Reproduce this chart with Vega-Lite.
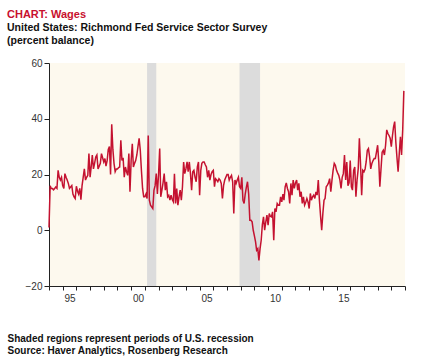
{
"$schema": "https://vega.github.io/schema/vega-lite/v6.json",
"width": 356, "height": 223,
"autosize": "none",
"padding": {"left": 49, "top": 63, "right": 33, "bottom": 75},
"background": "white",
"config": {"view": {"fill": "#fdf9ee", "stroke": null}, "font": "Liberation Sans"},
"title": {"text": "CHART: Wages", "subtitle": ["United States: Richmond Fed Service Sector Survey", "(percent balance)"], "anchor": "start", "frame": "group", "dx": -42, "offset": 12, "color": "#c8102e", "fontSize": 11, "fontWeight": "bold", "font": "Liberation Sans", "subtitleFont": "Liberation Sans", "subtitleFontSize": 10.5, "subtitleFontWeight": "bold", "subtitleColor": "#111111", "subtitleLineHeight": 13, "subtitlePadding": 3},
"datasets": {
"rec": [{"s": "2001-03-01", "e": "2001-11-01"}, {"s": "2007-12-01", "e": "2009-06-01"}],
"wages": [
{"d":"1994-01","v":1},{"d":"1994-02","v":16},{"d":"1994-03","v":15},{"d":"1994-04","v":15},{"d":"1994-05","v":14.5},{"d":"1994-06","v":15},{"d":"1994-07","v":15.5},{"d":"1994-08","v":15},{"d":"1994-09","v":21.5},{"d":"1994-10","v":19},{"d":"1994-11","v":18},{"d":"1994-12","v":19},
{"d":"1995-01","v":16},{"d":"1995-02","v":15},{"d":"1995-03","v":20.3},{"d":"1995-04","v":19},{"d":"1995-05","v":18},{"d":"1995-06","v":16.8},{"d":"1995-07","v":15},{"d":"1995-08","v":15.5},{"d":"1995-09","v":16},{"d":"1995-10","v":13},{"d":"1995-11","v":12},{"d":"1995-12","v":11.4},
{"d":"1996-01","v":15.8},{"d":"1996-02","v":14},{"d":"1996-03","v":13},{"d":"1996-04","v":15},{"d":"1996-05","v":11},{"d":"1996-06","v":16},{"d":"1996-07","v":19},{"d":"1996-08","v":22},{"d":"1996-09","v":18},{"d":"1996-10","v":19},{"d":"1996-11","v":19.7},{"d":"1996-12","v":27.5},
{"d":"1997-01","v":19},{"d":"1997-02","v":23},{"d":"1997-03","v":27},{"d":"1997-04","v":22},{"d":"1997-05","v":24},{"d":"1997-06","v":26.3},{"d":"1997-07","v":27},{"d":"1997-08","v":22},{"d":"1997-09","v":23},{"d":"1997-10","v":24},{"d":"1997-11","v":27.5},{"d":"1997-12","v":26},
{"d":"1998-01","v":24.5},{"d":"1998-02","v":25.7},{"d":"1998-03","v":23},{"d":"1998-04","v":25},{"d":"1998-05","v":29},{"d":"1998-06","v":30},{"d":"1998-07","v":20},{"d":"1998-08","v":38},{"d":"1998-09","v":29},{"d":"1998-10","v":24},{"d":"1998-11","v":21},{"d":"1998-12","v":22},
{"d":"1999-01","v":22},{"d":"1999-02","v":22.5},{"d":"1999-03","v":22.7},{"d":"1999-04","v":32.3},{"d":"1999-05","v":25},{"d":"1999-06","v":26},{"d":"1999-07","v":19},{"d":"1999-08","v":22.7},{"d":"1999-09","v":21},{"d":"1999-10","v":19.7},{"d":"1999-11","v":27.5},{"d":"1999-12","v":13.8},
{"d":"2000-01","v":25},{"d":"2000-02","v":31},{"d":"2000-03","v":22.7},{"d":"2000-04","v":24},{"d":"2000-05","v":25},{"d":"2000-06","v":27},{"d":"2000-07","v":30},{"d":"2000-08","v":33},{"d":"2000-09","v":28.7},{"d":"2000-10","v":21.5},{"d":"2000-11","v":15},{"d":"2000-12","v":12},
{"d":"2001-01","v":12},{"d":"2001-02","v":13},{"d":"2001-03","v":11.4},{"d":"2001-04","v":34},{"d":"2001-05","v":10.8},{"d":"2001-06","v":9},{"d":"2001-07","v":8.4},{"d":"2001-08","v":7.8},{"d":"2001-09","v":14.4},{"d":"2001-10","v":16},{"d":"2001-11","v":20.3},{"d":"2001-12","v":13},
{"d":"2002-01","v":20},{"d":"2002-02","v":29.3},{"d":"2002-03","v":12},{"d":"2002-04","v":14.4},{"d":"2002-05","v":17},{"d":"2002-06","v":20.3},{"d":"2002-07","v":14.4},{"d":"2002-08","v":17.4},{"d":"2002-09","v":12},{"d":"2002-10","v":12.5},{"d":"2002-11","v":10.8},{"d":"2002-12","v":12.6},
{"d":"2003-01","v":11},{"d":"2003-02","v":10.2},{"d":"2003-03","v":20.3},{"d":"2003-04","v":9.6},{"d":"2003-05","v":15},{"d":"2003-06","v":9},{"d":"2003-07","v":12},{"d":"2003-08","v":14.4},{"d":"2003-09","v":10.8},{"d":"2003-10","v":15.6},{"d":"2003-11","v":24.5},{"d":"2003-12","v":20.3},
{"d":"2004-01","v":22},{"d":"2004-02","v":24.5},{"d":"2004-03","v":21},{"d":"2004-04","v":24.5},{"d":"2004-05","v":20.3},{"d":"2004-06","v":14.4},{"d":"2004-07","v":21},{"d":"2004-08","v":21.5},{"d":"2004-09","v":19},{"d":"2004-10","v":17.4},{"d":"2004-11","v":22.7},{"d":"2004-12","v":24.5},
{"d":"2005-01","v":12.6},{"d":"2005-02","v":21.5},{"d":"2005-03","v":24},{"d":"2005-04","v":24.5},{"d":"2005-05","v":24.5},{"d":"2005-06","v":23.5},{"d":"2005-07","v":22.7},{"d":"2005-08","v":19},{"d":"2005-09","v":21.5},{"d":"2005-10","v":18},{"d":"2005-11","v":20},{"d":"2005-12","v":21},
{"d":"2006-01","v":21.5},{"d":"2006-02","v":15.6},{"d":"2006-03","v":18.5},{"d":"2006-04","v":18},{"d":"2006-05","v":17.4},{"d":"2006-06","v":18.5},{"d":"2006-07","v":18},{"d":"2006-08","v":16.8},{"d":"2006-09","v":11.4},{"d":"2006-10","v":16},{"d":"2006-11","v":18},{"d":"2006-12","v":19},
{"d":"2007-01","v":20},{"d":"2007-02","v":20},{"d":"2007-03","v":18},{"d":"2007-04","v":19},{"d":"2007-05","v":19.7},{"d":"2007-06","v":17.4},{"d":"2007-07","v":6},{"d":"2007-08","v":18},{"d":"2007-09","v":16.8},{"d":"2007-10","v":18},{"d":"2007-11","v":19},{"d":"2007-12","v":15.6},
{"d":"2008-01","v":15},{"d":"2008-02","v":19},{"d":"2008-03","v":10.8},{"d":"2008-04","v":9.6},{"d":"2008-05","v":13},{"d":"2008-06","v":15.5},{"d":"2008-07","v":17.4},{"d":"2008-08","v":13},{"d":"2008-09","v":3.6},{"d":"2008-10","v":3.6},{"d":"2008-11","v":3},{"d":"2008-12","v":0},
{"d":"2009-01","v":-2},{"d":"2009-02","v":-4.2},{"d":"2009-03","v":-7.2},{"d":"2009-04","v":-6.6},{"d":"2009-05","v":-10.8},{"d":"2009-06","v":-6.6},{"d":"2009-07","v":-3.6},{"d":"2009-08","v":2},{"d":"2009-09","v":4.8},{"d":"2009-10","v":0},{"d":"2009-11","v":3},{"d":"2009-12","v":5.4},
{"d":"2010-01","v":1.8},{"d":"2010-02","v":6},{"d":"2010-03","v":5},{"d":"2010-04","v":4.8},{"d":"2010-05","v":6.6},{"d":"2010-06","v":-3.6},{"d":"2010-07","v":7.8},{"d":"2010-08","v":6.6},{"d":"2010-09","v":9.6},{"d":"2010-10","v":9},{"d":"2010-11","v":9},{"d":"2010-12","v":12},
{"d":"2011-01","v":10.2},{"d":"2011-02","v":13},{"d":"2011-03","v":10.8},{"d":"2011-04","v":15.6},{"d":"2011-05","v":17},{"d":"2011-06","v":15},{"d":"2011-07","v":13.8},{"d":"2011-08","v":9.6},{"d":"2011-09","v":16.8},{"d":"2011-10","v":12.6},{"d":"2011-11","v":18},{"d":"2011-12","v":15},
{"d":"2012-01","v":17},{"d":"2012-02","v":18},{"d":"2012-03","v":14.4},{"d":"2012-04","v":16.8},{"d":"2012-05","v":12},{"d":"2012-06","v":13.8},{"d":"2012-07","v":9.6},{"d":"2012-08","v":12},{"d":"2012-09","v":9},{"d":"2012-10","v":10},{"d":"2012-11","v":11.4},{"d":"2012-12","v":10.2},
{"d":"2013-01","v":7.8},{"d":"2013-02","v":13.2},{"d":"2013-03","v":10.8},{"d":"2013-04","v":12},{"d":"2013-05","v":12.6},{"d":"2013-06","v":11.4},{"d":"2013-07","v":13.8},{"d":"2013-08","v":12.6},{"d":"2013-09","v":18},{"d":"2013-10","v":10.8},{"d":"2013-11","v":5},{"d":"2013-12","v":0},
{"d":"2014-01","v":6},{"d":"2014-02","v":10.8},{"d":"2014-03","v":11.4},{"d":"2014-04","v":15.6},{"d":"2014-05","v":16.2},{"d":"2014-06","v":17},{"d":"2014-07","v":18.5},{"d":"2014-08","v":13.8},{"d":"2014-09","v":18},{"d":"2014-10","v":21.5},{"d":"2014-11","v":24},{"d":"2014-12","v":23.3},
{"d":"2015-01","v":21.5},{"d":"2015-02","v":20.5},{"d":"2015-03","v":19.7},{"d":"2015-04","v":18},{"d":"2015-05","v":15},{"d":"2015-06","v":19},{"d":"2015-07","v":20.3},{"d":"2015-08","v":27},{"d":"2015-09","v":18},{"d":"2015-10","v":24.5},{"d":"2015-11","v":16},{"d":"2015-12","v":17},
{"d":"2016-01","v":25},{"d":"2016-02","v":15.6},{"d":"2016-03","v":14.4},{"d":"2016-04","v":21.5},{"d":"2016-05","v":22.7},{"d":"2016-06","v":12},{"d":"2016-07","v":18},{"d":"2016-08","v":22},{"d":"2016-09","v":33},{"d":"2016-10","v":24},{"d":"2016-11","v":12.6},{"d":"2016-12","v":21.5},
{"d":"2017-01","v":21},{"d":"2017-02","v":22},{"d":"2017-03","v":24.5},{"d":"2017-04","v":28.7},{"d":"2017-05","v":29.3},{"d":"2017-06","v":26.3},{"d":"2017-07","v":22},{"d":"2017-08","v":24},{"d":"2017-09","v":25},{"d":"2017-10","v":25.7},{"d":"2017-11","v":25.7},{"d":"2017-12","v":28},
{"d":"2018-01","v":30.5},{"d":"2018-02","v":24.5},{"d":"2018-03","v":15.6},{"d":"2018-04","v":22},{"d":"2018-05","v":28},{"d":"2018-06","v":28.7},{"d":"2018-07","v":27},{"d":"2018-08","v":30.5},{"d":"2018-09","v":36},{"d":"2018-10","v":34.7},{"d":"2018-11","v":34},{"d":"2018-12","v":33},
{"d":"2019-01","v":30},{"d":"2019-02","v":34},{"d":"2019-03","v":37},{"d":"2019-04","v":39},{"d":"2019-05","v":31.7},{"d":"2019-06","v":26},{"d":"2019-07","v":21},{"d":"2019-08","v":27.5},{"d":"2019-09","v":33.5},{"d":"2019-10","v":27},{"d":"2019-11","v":36},{"d":"2019-12","v":50}
]
},
"layer": [
{"data": {"name": "rec"}, "mark": {"type": "rect", "color": "#dcdcdc"},
 "encoding": {
  "x": {"field": "s", "type": "temporal",
   "scale": {"domain": [{"year": 1994, "month": 1, "date": 1}, {"year": 2020, "month": 1, "date": 1}], "nice": false},
   "axis": {"tickCount": {"interval": "year", "step": 1}, "labelExpr": "(year(datum.value) % 5 == 0 && year(datum.value) < 2020) ? timeFormat(datum.value, '%y') : ''", "labelOffset": 6.85, "labelOverlap": false, "labelFlush": false, "grid": false, "domainColor": "#222222", "tickColor": "#222222", "tickSize": 4, "labelFontSize": 10, "labelColor": "#333333", "labelPadding": 3,
    "title": ["Shaded regions represent periods of U.S. recession", "Source: Haver Analytics, Rosenberg Research"], "titleX": -42, "titleY": 55, "titleAlign": "left", "titleAnchor": "start", "titleBaseline": "alphabetic", "titleFontSize": 10, "titleFontWeight": "bold", "titleColor": "#111111", "titleLineHeight": 12.5}},
  "x2": {"field": "e"}}},
{"mark": {"type": "rule", "color": "#7a7a7a", "strokeWidth": 1},
 "encoding": {"y": {"datum": 0, "type": "quantitative"}}},
{"data": {"name": "wages"}, "mark": {"type": "line", "color": "#c41230", "strokeWidth": 1.5},
 "encoding": {
  "x": {"field": "d", "type": "temporal"},
  "y": {"field": "v", "type": "quantitative", "scale": {"domain": [-20, 60], "nice": false},
   "axis": {"values": [-20, 0, 20, 40, 60], "grid": false, "title": null, "domainColor": "#222222", "tickColor": "#222222", "tickSize": 5, "labelFontSize": 10, "labelColor": "#333333", "labelPadding": 2}}}}
]
}
